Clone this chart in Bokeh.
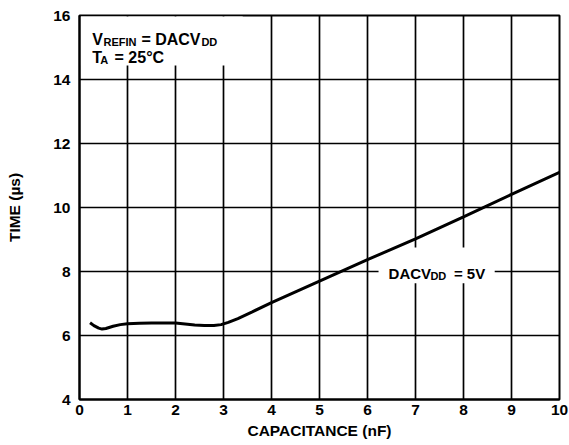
from bokeh.plotting import figure
from bokeh.models import Label, FixedTicker
from bokeh.embed import file_html
from bokeh.resources import INLINE

# data
cap_nf = [0.22, 0.3, 0.4, 0.47, 0.55, 0.7, 0.85, 1.0, 1.25, 1.5, 1.75, 2.0,
          2.2, 2.4, 2.6, 2.8, 2.95, 3.1, 3.3, 3.6, 4, 5, 6, 7, 8, 9, 10]
time_us = [6.40, 6.31, 6.23, 6.20, 6.22, 6.29, 6.34, 6.37, 6.38, 6.39, 6.39, 6.39,
           6.36, 6.33, 6.31, 6.31, 6.34, 6.41, 6.53, 6.74, 7.03, 7.70, 8.37, 9.02,
           9.71, 10.41, 11.10]
x_ticks = [0, 1, 2, 3, 4, 5, 6, 7, 8, 9, 10]
y_ticks = [4, 6, 8, 10, 12, 14, 16]

FONT = "Liberation Sans"

p = figure(width=569, height=445, x_range=(0, 10), y_range=(4, 16),
           output_backend="svg", toolbar_location=None,
           min_border_left=79, min_border_right=10, min_border_top=15, min_border_bottom=46)
p.background_fill_color = "white"
p.border_fill_color = "white"
p.outline_line_color = "black"
p.outline_line_width = 2

p.xaxis.ticker = FixedTicker(ticks=x_ticks)
p.yaxis.ticker = FixedTicker(ticks=y_ticks)
for ax in (p.xaxis, p.yaxis):
    ax.axis_line_color = "black"
    ax.axis_line_width = 2
    ax.major_tick_out = 0
    ax.major_tick_in = 0
    ax.minor_tick_out = 0
    ax.minor_tick_in = 0
    ax.major_label_text_font = FONT
    ax.major_label_text_font_style = "bold"
    ax.major_label_text_font_size = "15.5px"
    ax.major_label_text_color = "black"
    ax.axis_label_text_font = FONT
    ax.axis_label_text_font_style = "bold"
    ax.axis_label_text_font_size = "15.5px"
    ax.axis_label_text_color = "black"

p.xaxis.axis_label = "CAPACITANCE (nF)"
p.yaxis.axis_label = "TIME (µs)"
p.xaxis.major_label_standoff = 5
p.xaxis.axis_label_standoff = 4
p.yaxis.major_label_standoff = 9
p.yaxis.axis_label_standoff = 27

p.xgrid.grid_line_color = "black"
p.ygrid.grid_line_color = "black"
p.xgrid.grid_line_width = 1.7
p.ygrid.grid_line_width = 1.7
p.xgrid.grid_line_alpha = 1
p.ygrid.grid_line_alpha = 1

# white boxes behind the annotations
p.quad(left=[0.03], right=[3.4], bottom=[14.44], top=[15.97],
       fill_color="white", line_color=None)
p.quad(left=[6.23], right=[8.65], bottom=[7.63], top=[8.75],
       fill_color="white", line_color=None)

p.line(cap_nf, time_us, line_color="black", line_width=3)


def lab(x, y, t, size):
    p.add_layout(Label(x=x, y=y, text=t, text_font=FONT, text_font_style="bold",
                       text_font_size=size, text_color="black",
                       text_baseline="alphabetic", text_align="left"))


lab(0.265, 15.25, "V", "16px")
lab(0.50, 15.16, "REFIN", "11px")
lab(1.29, 15.25, "= DACV", "16px")
lab(2.54, 15.16, "DD", "11px")
lab(0.265, 14.70, "T", "16px")
lab(0.43, 14.61, "A", "11px")
lab(0.73, 14.70, "= 25°C", "16px")

lab(6.44, 7.95, "DACV", "15px")
lab(7.31, 7.875, "DD", "11px")
lab(7.80, 7.95, "= 5V", "15px")

open("out.html", "w").write(file_html(p, INLINE))
